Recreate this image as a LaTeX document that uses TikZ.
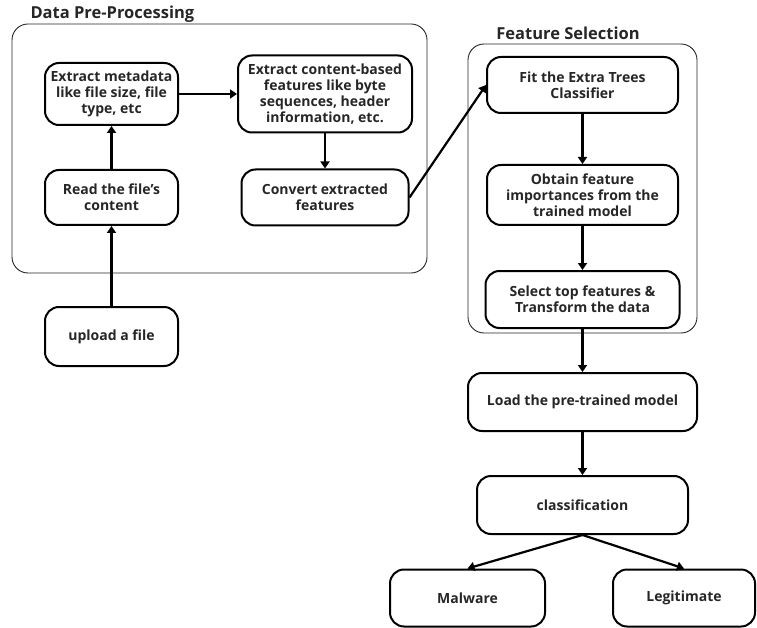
\documentclass[tikz,border=0pt]{standalone}
\usepackage{fontspec}
\setmainfont{Open Sans}
\usetikzlibrary{arrows.meta, positioning, calc}

\begin{document}
\begin{tikzpicture}[
		x=1pt, y=-1pt,
		font=\bfseries\fontsize{14}{16}\selectfont,
		arrow/.style={-{Triangle[width=9pt, length=7pt]}, line width=2.2pt},
		box/.style={rectangle, rounded corners=14pt, draw=black, line width=2pt, align=center, inner sep=1pt, text=black!85},
		group/.style={rectangle, rounded corners=16pt, draw=black!85, line width=0.9pt},
		grouptitle/.style={font=\bfseries\fontsize{16.5}{18}\selectfont, text=black!85}
		]
		\useasboundingbox (0,0) rectangle (757,628);
		
		% 1. Containers
		\node[group, minimum width=415pt, minimum height=249pt] (pre) at (219.5,148.5) {};
		\node[grouptitle, anchor=west] (pretitle) at (27,14) {Data Pre-Processing};
		\node[group, minimum width=229pt, minimum height=289pt] (sel) at (582.5,188.5) {};
		\node[grouptitle] (seltitle) at (568,33) {Feature Selection};
		
		% 2. Data pre-processing steps
		\node[box, minimum width=133pt, minimum height=62pt] (meta) at (111.5,94) {Extract metadata\\like file size, file\\type, etc};
		\node[box, minimum width=174pt, minimum height=77pt, right=58pt of meta] (content) {Extract content-based\\features like byte\\sequences, header\\information, etc.};
		\node[box, minimum width=133pt, minimum height=55pt, below=43pt of meta] (read) {Read the file's\\content};
		\node[box, minimum width=167pt, minimum height=56pt, below=35pt of content] (convert) {Convert extracted\\features};
		\node[box, minimum width=133pt, minimum height=59pt, below=80pt of read] (upload) {upload a file};
		
		% 3. Feature selection steps
		\node[box, minimum width=191pt, minimum height=56pt] (fit) at (582.5,85) {Fit the Extra Trees\\Classifier};
		\node[box, minimum width=191pt, minimum height=60pt, below=50pt of fit] (obtain) {Obtain feature\\importances from the\\trained model};
		\node[box, minimum width=194pt, minimum height=57pt, below=44pt of obtain] (select) {Select top features \&\\Transform the data};
		
		% 4. Model and result
		\node[box, minimum width=229pt, minimum height=58pt, below=43pt of select] (load) {Load the pre-trained model};
		\node[box, minimum width=211pt, minimum height=58pt, below=43pt of load] (classif) {classification};
		\node[box, minimum width=155pt, minimum height=57pt] (malware) at (467.5,598) {Malware};
		\node[box, minimum width=142pt, minimum height=57pt] (legit) at (684,598) {Legitimate};
		
		% Arrows
		\draw[arrow] (upload) -- (read);
		\draw[arrow] (read) -- (meta);
		\draw[arrow] (meta) -- (content);
		\draw[arrow] (content) -- (convert);
		\draw[arrow] (convert.east) -- (fit.west);
		\draw[arrow] (fit) -- (obtain);
		\draw[arrow] (obtain) -- (select);
		\draw[arrow] (select) -- (load);
		\draw[arrow] (load) -- (classif);
		\draw[arrow] (classif.south) -- (malware.north);
		\draw[arrow] (classif.south) -- (legit.north);
	\end{tikzpicture}
\end{document}
